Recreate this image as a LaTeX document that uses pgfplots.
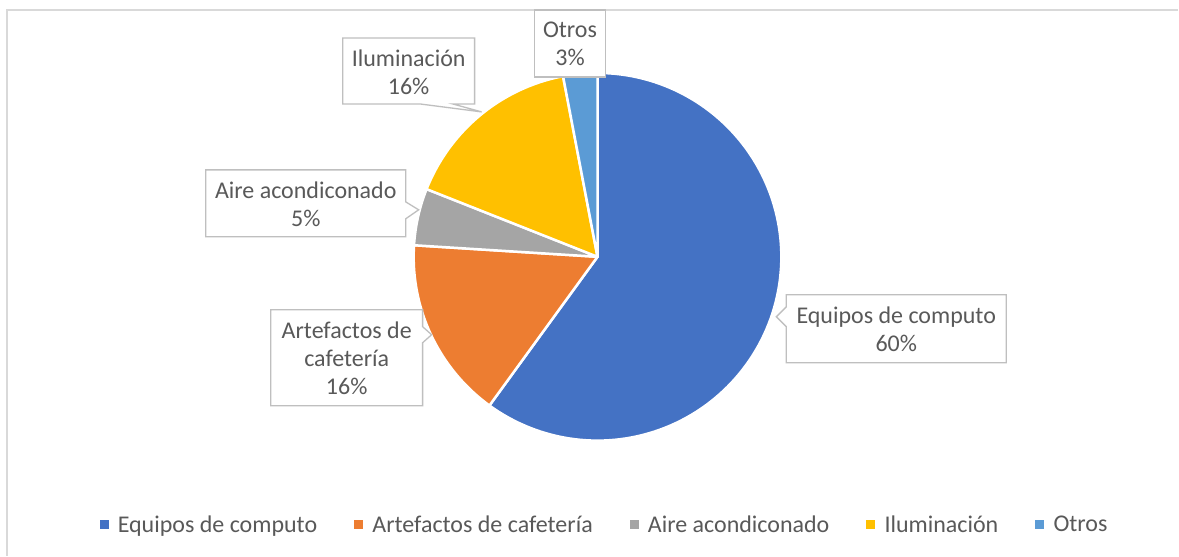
\documentclass[border=0pt]{standalone}
\usepackage{pgfplots}
\pgfplotsset{compat=1.18}
\usepackage{fontspec}
\setmainfont{Carlito}
\definecolor{cA}{HTML}{4472C4}
\definecolor{cB}{HTML}{ED7D31}
\definecolor{cC}{HTML}{A5A5A5}
\definecolor{cD}{HTML}{FFC000}
\definecolor{cE}{HTML}{5B9BD5}
\definecolor{txt}{HTML}{595959}
\definecolor{bx}{HTML}{BFBFBF}
\definecolor{frame}{HTML}{D9D9D9}
% Pie: centre (598,257) px, radius 184 px; domain of each slice = cumulative percent
% Equipos de computo 60, Artefactos de cafeteria 16, Aire acondiconado 5, Iluminacion 16, Otros 3
\newcommand{\lbl}{\fontsize{24}{28}\selectfont\color{txt}}
\begin{document}
\begin{tikzpicture}
\begin{axis}[
  x=1pt, y=1pt, xmin=0, xmax=1179, ymin=0, ymax=556, y dir=reverse,
  hide axis, clip=false,
  legend columns=5,
  legend style={at={(axis cs:604,525)}, anchor=center, draw=none, fill=none,
    font=\fontsize{24}{28}\selectfont\color{txt},
    /tikz/column sep=0pt,
    /tikz/every even column/.append style={column sep=37pt},
    nodes={inner sep=0pt}},
  legend image code/.code={\fill[#1, draw=none] (0pt,-4.5pt) rectangle (9pt,4.5pt); \path (17pt,0pt);},
]
\fill[white] (0,0) rectangle (1179,556);
\draw[frame, line width=2pt] (7,556) -- (7,10) -- (1179,10);

\addplot[fill=cA, draw=white, line width=2.5pt, domain=0:60, samples=121, line join=round]
  ({598+184*sin(3.6*x)},{257-184*cos(3.6*x)}) -- (598,257) -- cycle;
\addlegendentry{Equipos de computo}
\addplot[fill=cB, draw=white, line width=2.5pt, domain=60:76, samples=41, line join=round]
  ({598+184*sin(3.6*x)},{257-184*cos(3.6*x)}) -- (598,257) -- cycle;
\addlegendentry{Artefactos de cafetería}
\addplot[fill=cC, draw=white, line width=2.5pt, domain=76:81, samples=21, line join=round]
  ({598+184*sin(3.6*x)},{257-184*cos(3.6*x)}) -- (598,257) -- cycle;
\addlegendentry{Aire acondiconado}
\addplot[fill=cD, draw=white, line width=2.5pt, domain=81:97, samples=41, line join=round]
  ({598+184*sin(3.6*x)},{257-184*cos(3.6*x)}) -- (598,257) -- cycle;
\addlegendentry{Iluminación}
\addplot[fill=cE, draw=white, line width=2.5pt, domain=97:100, samples=11, line join=round]
  ({598+184*sin(3.6*x)},{257-184*cos(3.6*x)}) -- (598,257) -- cycle;
\addlegendentry{Otros}

% callouts
\draw[bx, fill=white, line width=1.3pt] (535,10) -- (606,10) -- (606,77) -- (535,77) -- cycle;
\node[align=center, font=\lbl] at (570.5,44) {Otros\\3\%};

\draw[bx, fill=white, line width=1.3pt] (343,38) -- (475,38) -- (475,104) -- (453,104) -- (482,112) -- (420,104) -- (343,104) -- cycle;
\node[align=center, font=\lbl] at (409,72) {Iluminación\\16\%};

\draw[bx, fill=white, line width=1.3pt] (206,170) -- (406,170) -- (406,202) -- (419,210) -- (406,219) -- (406,237) -- (206,237) -- cycle;
\node[align=center, font=\lbl] at (306,204) {Aire acondiconado\\5\%};

\draw[bx, fill=white, line width=1.3pt] (271,310) -- (423,310) -- (423,327) -- (432,335) -- (423,343) -- (423,406) -- (271,406) -- cycle;
\node[align=center, font=\lbl] at (347,359) {Artefactos de\\cafetería\\16\%};

\draw[bx, fill=white, line width=1.3pt] (787,295) -- (1007,295) -- (1007,363) -- (787,363) -- (787,327) -- (777,317) -- (787,307) -- cycle;
\node[align=center, font=\lbl] at (897,330) {Equipos de computo\\60\%};
\end{axis}
\end{tikzpicture}
\end{document}
